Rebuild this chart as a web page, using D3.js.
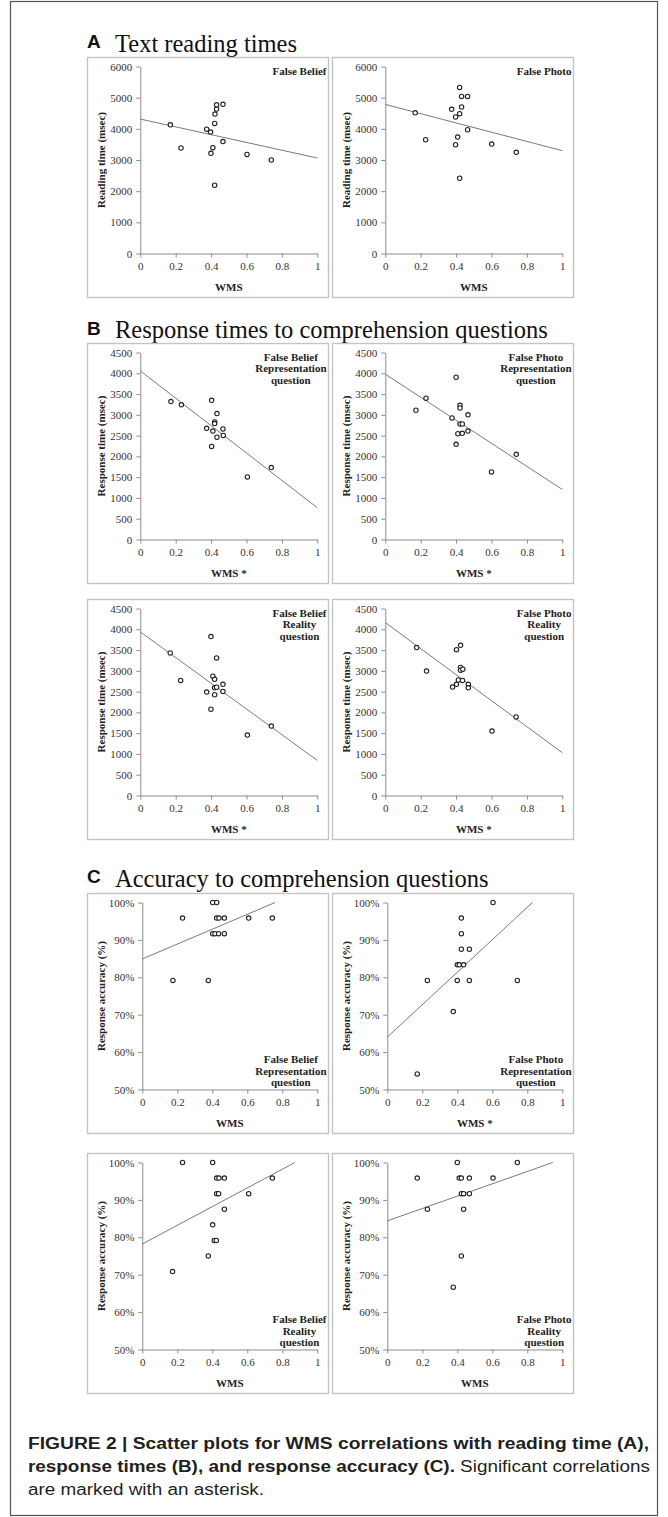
<!DOCTYPE html>
<html>
<head>
<meta charset="utf-8">
<script src="https://cdn.jsdelivr.net/npm/d3@7/dist/d3.min.js"></script>
<style>
body { margin: 0; background: #fff; }
svg text { font-family: "Liberation Serif", "Times New Roman", serif; }
svg text.cap { font-family: "Liberation Sans", Arial, sans-serif; }
</style>
</head>
<body>
<svg id="fig" width="668" height="1517"></svg>
<script>
// tick values
const xTicks = [0, 0.2, 0.4, 0.6, 0.8, 1];
const readTicks = [0, 1000, 2000, 3000, 4000, 5000, 6000];
const respTicks = [0, 500, 1000, 1500, 2000, 2500, 3000, 3500, 4000, 4500];
const accTicks = [50, 60, 70, 80, 90, 100];

// A - reading times
const readFbX = [0.17, 0.23, 0.375, 0.397, 0.41, 0.399, 0.42, 0.422, 0.431, 0.431, 0.467, 0.467, 0.42, 0.603, 0.74];
const readFbY = [4130, 3385, 3990, 3895, 3395, 3215, 4175, 4475, 4635, 4770, 4785, 3590, 2190, 3180, 3000];
const readFbTrend = [4313, -1249]; // intercept, slope
const readFpX = [0.169, 0.228, 0.375, 0.397, 0.409, 0.397, 0.42, 0.42, 0.431, 0.431, 0.465, 0.465, 0.42, 0.601, 0.74];
const readFpY = [4515, 3650, 4625, 4380, 3735, 3490, 4485, 5330, 5040, 4700, 5040, 3970, 2415, 3510, 3245];
const readFpTrend = [4783, -1484];

// B - response times
const respFbRepX = [0.173, 0.232, 0.403, 0.433, 0.42, 0.42, 0.375, 0.41, 0.467, 0.469, 0.433, 0.403, 0.605, 0.74];
const respFbRepY = [3320, 3240, 3350, 3030, 2830, 2790, 2675, 2610, 2660, 2505, 2460, 2240, 1505, 1730];
const respFbRepTrend = [4058, -3295];
const respFpRepX = [0.173, 0.23, 0.377, 0.4, 0.422, 0.422, 0.422, 0.435, 0.41, 0.435, 0.4, 0.467, 0.467, 0.6, 0.74];
const respFpRepY = [3110, 3400, 2925, 3905, 3230, 3165, 2780, 2780, 2545, 2555, 2290, 3000, 2610, 1625, 2050];
const respFpRepTrend = [3978, -2773];
const respFbRealX = [0.169, 0.228, 0.375, 0.399, 0.399, 0.41, 0.42, 0.42, 0.42, 0.431, 0.431, 0.467, 0.467, 0.605, 0.74];
const respFbRealY = [3430, 2770, 2490, 3825, 2075, 2870, 2795, 2590, 2425, 2605, 3310, 2675, 2505, 1455, 1670];
const respFbRealTrend = [3938, -3094];
const respFpRealX = [0.177, 0.233, 0.38, 0.402, 0.425, 0.402, 0.413, 0.425, 0.425, 0.438, 0.436, 0.469, 0.469, 0.603, 0.739];
const respFpRealY = [3560, 2995, 2610, 3510, 3615, 2675, 2780, 3080, 3015, 3040, 2770, 2675, 2590, 1550, 1890];
const respFpRealTrend = [4162, -3133];

// C - accuracy (%)
const accFbRepX = [0.175, 0.23, 0.377, 0.402, 0.425, 0.402, 0.415, 0.436, 0.425, 0.438, 0.469, 0.469, 0.608, 0.743];
const accFbRepY = [79.17, 95.83, 79.17, 100, 100, 91.67, 91.67, 91.67, 95.83, 95.83, 95.83, 91.67, 95.83, 95.83];
const accFbRepTrend = [84.9, 19.9];
const accFpRepX = [0.171, 0.229, 0.377, 0.4, 0.4, 0.411, 0.436, 0.423, 0.423, 0.423, 0.469, 0.469, 0.604, 0.743];
const accFpRepY = [54.17, 79.17, 70.83, 79.17, 83.33, 83.33, 83.33, 95.83, 91.67, 87.5, 87.5, 79.17, 100, 79.17];
const accFpRepTrend = [64.0, 43.4];
const accFbRealX = [0.173, 0.23, 0.377, 0.402, 0.402, 0.411, 0.423, 0.425, 0.436, 0.425, 0.438, 0.469, 0.469, 0.608, 0.743];
const accFbRealY = [70.83, 100, 75, 100, 83.33, 79.17, 79.17, 91.67, 91.67, 95.83, 95.83, 95.83, 87.5, 91.67, 95.83];
const accFbRealTrend = [78.2, 25.0];
const accFpRealX = [0.171, 0.229, 0.377, 0.4, 0.411, 0.423, 0.423, 0.436, 0.436, 0.423, 0.469, 0.469, 0.604, 0.743];
const accFpRealY = [95.83, 87.5, 66.67, 100, 95.83, 95.83, 91.67, 91.67, 87.5, 75, 95.83, 91.67, 95.83, 100];
const accFpRealTrend = [84.4, 16.5];

const sections = [
  { letter: 'A', title: 'Text reading times', y: 51.5 },
  { letter: 'B', title: 'Response times to comprehension questions', y: 338 },
  { letter: 'C', title: 'Accuracy to comprehension questions', y: 886.5 }
];

const caption = [
  [['FIGURE 2 | Scatter plots for WMS correlations with reading time (A),', 700]],
  [['response times (B), and response accuracy (C).', 700], [' Significant correlations', 400]],
  [['are marked with an asterisk.', 400]]
];

// layout
const colX = [87, 332];
const rowTop = [57, 343, 599, 893, 1153];
const boxW = 241, boxH = 240;

const panels = [
  { row: 0, col: 0, xs: readFbX, ys: readFbY, trend: readFbTrend, yTicks: readTicks, yLabel: 'Reading time (msec)', xLabel: 'WMS', note: ['False Belief'], noteAt: 'top' },
  { row: 0, col: 1, xs: readFpX, ys: readFpY, trend: readFpTrend, yTicks: readTicks, yLabel: 'Reading time (msec)', xLabel: 'WMS', note: ['False Photo'], noteAt: 'top' },
  { row: 1, col: 0, xs: respFbRepX, ys: respFbRepY, trend: respFbRepTrend, yTicks: respTicks, yLabel: 'Response time (msec)', xLabel: 'WMS *', note: ['False Belief', 'Representation', 'question'], noteAt: 'top' },
  { row: 1, col: 1, xs: respFpRepX, ys: respFpRepY, trend: respFpRepTrend, yTicks: respTicks, yLabel: 'Response time (msec)', xLabel: 'WMS *', note: ['False Photo', 'Representation', 'question'], noteAt: 'top' },
  { row: 2, col: 0, xs: respFbRealX, ys: respFbRealY, trend: respFbRealTrend, yTicks: respTicks, yLabel: 'Response time (msec)', xLabel: 'WMS *', note: ['False Belief', 'Reality', 'question'], noteAt: 'top' },
  { row: 2, col: 1, xs: respFpRealX, ys: respFpRealY, trend: respFpRealTrend, yTicks: respTicks, yLabel: 'Response time (msec)', xLabel: 'WMS *', note: ['False Photo', 'Reality', 'question'], noteAt: 'top' },
  { row: 3, col: 0, xs: accFbRepX, ys: accFbRepY, trend: accFbRepTrend, yTicks: accTicks, pct: true, yLabel: 'Response accuracy (%)', xLabel: 'WMS', note: ['False Belief', 'Representation', 'question'], noteAt: 'bottom' },
  { row: 3, col: 1, xs: accFpRepX, ys: accFpRepY, trend: accFpRepTrend, yTicks: accTicks, pct: true, yLabel: 'Response accuracy (%)', xLabel: 'WMS *', note: ['False Photo', 'Representation', 'question'], noteAt: 'bottom' },
  { row: 4, col: 0, xs: accFbRealX, ys: accFbRealY, trend: accFbRealTrend, yTicks: accTicks, pct: true, yLabel: 'Response accuracy (%)', xLabel: 'WMS', note: ['False Belief', 'Reality', 'question'], noteAt: 'bottom' },
  { row: 4, col: 1, xs: accFpRealX, ys: accFpRealY, trend: accFpRealTrend, yTicks: accTicks, pct: true, yLabel: 'Response accuracy (%)', xLabel: 'WMS', note: ['False Photo', 'Reality', 'question'], noteAt: 'bottom' }
];

const svg = d3.select('#fig');

// outer frame
svg.append('rect')
  .attr('x', 10.5).attr('y', 1.5)
  .attr('width', 647).attr('height', 1514)
  .attr('fill', 'none').attr('stroke', '#555').attr('stroke-width', 1.2);

sections.forEach(s => {
  svg.append('text').attr('class', 'cap')
    .attr('x', 87).attr('y', s.y - 3.5)
    .style('font-weight', 'bold').style('font-size', '19px')
    .attr('fill', '#111').text(s.letter);
  svg.append('text')
    .attr('x', 115).attr('y', s.y)
    .style('font-size', '24.5px').attr('fill', '#111')
    .text(s.title);
});

panels.forEach(p => {
  const bx = colX[p.col], by = rowTop[p.row];
  const left = bx + (p.pct ? 55.3 : 53.3);
  const right = bx + 230.3;
  const top = by + 9.5, bottom = by + 196.5;
  const yDomain = d3.extent(p.yTicks);

  const g = svg.append('g');
  g.append('rect')
    .attr('x', bx + 0.5).attr('y', by + 0.5)
    .attr('width', boxW).attr('height', boxH)
    .attr('fill', '#fff').attr('stroke', '#c4c4c4').attr('stroke-width', 1.4);

  const x = d3.scaleLinear().domain([0, 1]).range([left, right]);
  const y = d3.scaleLinear().domain(yDomain).range([bottom, top]);

  const xAxis = g.append('g').attr('transform', `translate(0,${bottom})`)
    .call(d3.axisBottom(x).tickValues(xTicks).tickSize(4).tickSizeOuter(0).tickPadding(5).tickFormat(d => String(d)));
  const yAxis = g.append('g').attr('transform', `translate(${left},0)`)
    .call(d3.axisLeft(y).tickValues(p.yTicks).tickSize(4).tickSizeOuter(0).tickPadding(4)
      .tickFormat(d => p.pct ? d + '%' : String(d)));
  [xAxis, yAxis].forEach(a => {
    a.selectAll('path, line').attr('stroke', '#8c8c8c');
    a.selectAll('text').attr('fill', '#333')
      .style('font-family', '"Liberation Serif", serif').style('font-size', '11px');
  });

  // trend line, clipped to the y range
  const [b, m] = p.trend;
  let x1 = 1;
  if (b + m > yDomain[1]) x1 = (yDomain[1] - b) / m;
  g.append('line')
    .attr('x1', x(0)).attr('y1', y(b))
    .attr('x2', x(x1)).attr('y2', y(b + m * x1))
    .attr('stroke', '#7a7a7a').attr('stroke-width', 1);

  g.selectAll('circle.pt').data(p.xs.map((v, i) => [v, p.ys[i]]))
    .join('circle').attr('class', 'pt')
    .attr('cx', d => x(d[0])).attr('cy', d => y(d[1]))
    .attr('r', 2.2).attr('fill', '#fff')
    .attr('stroke', '#222').attr('stroke-width', 1.1);

  g.append('text')
    .attr('x', (left + right) / 2).attr('y', bottom + 37)
    .attr('text-anchor', 'middle')
    .style('font-weight', 'bold').style('font-size', '11px').attr('fill', '#222')
    .text(p.xLabel);

  g.append('text')
    .attr('transform', `translate(${bx + 18},${(top + bottom) / 2}) rotate(-90)`)
    .attr('text-anchor', 'middle')
    .style('font-weight', 'bold').style('font-size', '11px').attr('fill', '#222')
    .text(p.yLabel);

  // note block, widest line flush with the box's right edge
  const note = g.append('text')
    .style('font-weight', 'bold').style('font-size', '11px').attr('fill', '#222')
    .attr('text-anchor', 'middle');
  const lineH = 11.6;
  const firstY = p.noteAt === 'top' ? by + 17.5 : bottom - 3.3 - lineH * (p.note.length - 1);
  const spans = note.selectAll('tspan').data(p.note).join('tspan')
    .attr('y', (d, i) => firstY + i * lineH).text(d => d);
  const widest = d3.max(spans.nodes(), n => n.getComputedTextLength());
  spans.attr('x', bx + boxW - 1.5 - widest / 2);
});

// caption: a condensed face, lines 1 and 2 squeezed to the column width
const capLines = caption.map((line, i) => {
  const t = svg.append('text').attr('class', 'cap')
    .attr('x', 28).attr('y', 1449 + i * 23)
    .style('font-size', '16px').attr('fill', '#231f20');
  line.forEach(([txt, w]) => t.append('tspan').style('font-weight', w).text(txt));
  return t;
});
const natural = capLines.map(t => t.node().getComputedTextLength());
const squeeze = 622 / natural[1];
capLines[0].attr('textLength', 621).attr('lengthAdjust', 'spacingAndGlyphs');
capLines[1].attr('textLength', 622).attr('lengthAdjust', 'spacingAndGlyphs');
capLines[2].attr('textLength', natural[2] * squeeze).attr('lengthAdjust', 'spacingAndGlyphs');
</script>
</body>
</html>
